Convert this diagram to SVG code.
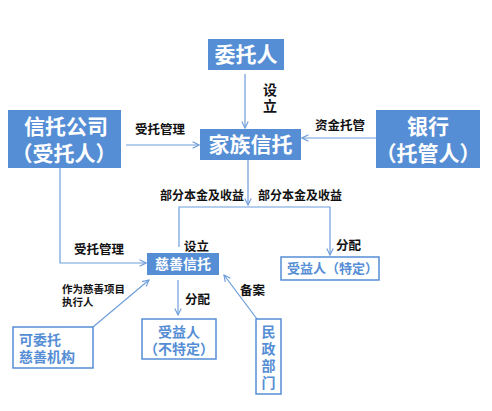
<svg xmlns="http://www.w3.org/2000/svg" width="492" height="411" viewBox="0 0 492 411">
<defs>
<style>
text{font-family:"Noto Sans CJK SC","Noto Sans",sans-serif;font-weight:bold}
.fill{fill:#558ED5}
.out{fill:#fff;stroke:#558ED5;stroke-width:1.5}
.wt{fill:#fff;text-anchor:middle}
.bt{fill:#558ED5}
.lb{fill:#111}
.c{fill:none;stroke:#6E9EDB;stroke-width:1.2}
.v{writing-mode:vertical-rl}
</style>
<marker id="ah" viewBox="0 0 10 10" refX="9" refY="5" markerWidth="8" markerHeight="8" orient="auto" markerUnits="userSpaceOnUse">
<path d="M1,1 L9,5 L1,9" fill="none" stroke="#6E9EDB" stroke-width="1.4"/>
</marker>
</defs>
<rect width="492" height="411" fill="#fff"/>
<g id="connectors">
<path class="c" d="M245,74 V128" marker-end="url(#ah)"/>
<path class="c" d="M126,145 H199" marker-end="url(#ah)"/>
<path class="c" d="M376,138 H302" marker-end="url(#ah)"/>
<path class="c" d="M248,160 V205" marker-end="url(#ah)"/>
<path class="c" d="M179,247 V207 H330 V255" marker-end="url(#ah)"/>
<path class="c" d="M60,168 V263 H146" marker-end="url(#ah)"/>
<path class="c" d="M93,327 L149,280" marker-end="url(#ah)"/>
<path class="c" d="M178,280 V315" marker-end="url(#ah)"/>
<path class="c" d="M257,319 L224,275" marker-end="url(#ah)"/>
<text class="lb v" x="270" y="83" font-size="14" letter-spacing="2">设立</text>
<text class="lb" x="135" y="134" font-size="12.5">受托管理</text>
<text class="lb" x="315" y="130" font-size="12.5">资金托管</text>
<text class="lb" x="160" y="200" font-size="12">部分本金及收益</text>
<text class="lb" x="258" y="200" font-size="12">部分本金及收益</text>
<text class="lb" x="184" y="251" font-size="12.5">设立</text>
<text class="lb" x="74" y="254" font-size="12.5">受托管理</text>
<text class="lb" x="336" y="250" font-size="12.5">分配</text>
<text class="lb" x="62" y="293" font-size="10.5">作为慈善项目<tspan x="62" dy="13">执行人</tspan></text>
<text class="lb" x="185" y="304" font-size="12.5">分配</text>
<text class="lb" x="240" y="295" font-size="12.5">备案</text>
</g>
<g id="weituoren">
<rect class="fill" x="208" y="39" width="76" height="31"/>
<text class="wt" x="246" y="62" font-size="21">委托人</text>
</g>
<g id="xintuogongsi">
<rect class="fill" x="8" y="110" width="113" height="58"/>
<text class="wt" x="66" y="134" font-size="21">信托公司<tspan x="64" dy="27">（受托人）</tspan></text>
</g>
<g id="jiazuxintuo">
<rect class="fill" x="200" y="129" width="101" height="31"/>
<text class="wt" x="250.5" y="152" font-size="21">家族信托</text>
</g>
<g id="yinhang">
<rect class="fill" x="376" y="110" width="104" height="58"/>
<text class="wt" x="428" y="134" font-size="21">银行<tspan x="428" dy="27">（托管人）</tspan></text>
</g>
<g id="cishanxintuo">
<rect class="fill" x="147" y="253" width="72" height="22"/>
<text class="wt" x="183" y="269" font-size="14">慈善信托</text>
</g>
<g id="shouyiren-teding">
<rect class="out" x="281" y="257" width="98" height="23"/>
<text class="bt" x="287" y="273" font-size="13">受益人（特定）</text>
</g>
<g id="kewituo">
<rect class="out" x="13" y="327" width="80" height="41"/>
<text class="bt" x="19" y="345" font-size="14">可委托<tspan x="19" dy="17">慈善机构</tspan></text>
</g>
<g id="shouyiren-buteding">
<rect class="out" x="142" y="319" width="74" height="40"/>
<text class="bt" x="179" y="337" font-size="14" text-anchor="middle">受益人<tspan x="179" dy="17">（不特定）</tspan></text>
</g>
<g id="minzhengbumen">
<rect class="out" x="256" y="319" width="25" height="75"/>
<text class="bt v" x="268.5" y="325" font-size="14" letter-spacing="3">民政部门</text>
</g>
</svg>
